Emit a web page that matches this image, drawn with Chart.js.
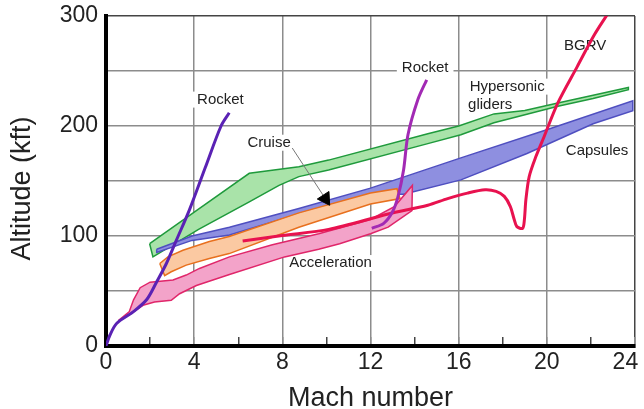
<!DOCTYPE html>
<html>
<head>
<meta charset="utf-8">
<title>Altitude vs Mach number</title>
<script src="https://cdn.jsdelivr.net/npm/chart.js@4.4.1/dist/chart.umd.min.js"></script>
<style>
    html, body { margin: 0; padding: 0; background: #fff; }
    #wrap { width: 644px; height: 409px; }
</style>
</head>
<body>
<div id="wrap"><canvas id="chart" width="644" height="409"></canvas></div>
<script>
// Axis ticks
const xTicks = [0, 4, 8, 12, 16, 20, 24];
const yTicks = [0, 100, 200, 300];

// Corridor outlines, [Mach, kft]; upper edge left->right, lower edge left->right
const glidersUpper = [[1.98, 93], [4.1, 123], [6.5, 157], [8.75, 163], [10.1, 169], [14.6, 193], [16.0, 200], [17.6, 211], [19.0, 214], [20.5, 221], [22.1, 228], [23.7, 235]];
const glidersLower = [[2.13, 81], [4.2, 106], [6.5, 131], [7.85, 146], [8.75, 154], [10.1, 160], [14.6, 184], [16.1, 192], [17.6, 203], [20.5, 218], [22.1, 225], [23.7, 233]];

const capsulesUpper = [[2.3, 88], [3.9, 100], [5.6, 108], [8.75, 125], [12.0, 143.5], [16.1, 171], [20.2, 198], [23.9, 223]];
const capsulesLower = [[2.3, 85], [3.9, 96], [5.6, 101], [8.75, 120], [12.0, 138], [13.5, 138], [16.1, 151], [19.1, 175], [22.1, 202], [23.9, 214]];

const cruiseUpper = [[2.44, 75], [2.81, 81], [3.49, 87], [4.69, 95], [5.59, 99.5], [8.75, 121], [12.0, 139], [13.2, 143]];
const cruiseLower = [[2.66, 64], [2.96, 67.5], [3.64, 73.5], [4.69, 79.5], [5.59, 84], [8.75, 108], [12.0, 129], [13.34, 134]];

const accelUpper = [[0.56, 23], [1.05, 31], [1.25, 42], [1.55, 53], [2.0, 58], [3.04, 60], [3.64, 64.5], [4.24, 70.5], [5.6, 81], [7.55, 92], [9.65, 102], [12.0, 115], [13.1, 127], [13.9, 146]];
const accelLower = [[0.56, 23], [1.1, 29], [1.68, 37], [2.2, 40], [2.96, 41.5], [3.34, 47.5], [4.1, 55], [5.6, 65], [8.1, 81], [9.65, 88], [10.6, 93], [12.0, 102], [12.8, 108], [13.88, 123]];

// Trajectories
const rocketA = [[0, 0], [0.18, 10], [0.48, 20.5], [1.23, 31], [1.84, 42], [2.29, 58], [2.74, 75], [3.19, 96], [3.79, 124], [4.5, 162], [5.22, 200], [5.59, 212]];
const rocketB = [[12.06, 107], [12.6, 111.5], [13.0, 122], [13.25, 136], [13.5, 160], [13.7, 192], [14.15, 224], [14.55, 242]];
const bgrv = [[6.2, 95.5], [8.0, 100.5], [10.1, 106], [12.8, 120], [14.6, 128], [15.5, 134], [16.4, 139], [17.2, 142], [17.7, 140.5], [18.07, 136], [18.34, 127], [18.52, 115], [18.64, 108.5], [18.9, 107], [18.98, 114.5], [19.05, 133], [19.2, 154], [19.5, 172], [19.88, 190.5], [20.5, 221], [21.38, 254], [22.13, 282], [22.73, 301]];
const cruiseArrow = [[8.45, 180], [9.95, 134]];

// Text labels
const labelTexts = ['Rocket', 'Rocket', 'Cruise', 'Hypersonic', 'gliders', 'Capsules', 'BGRV', 'Acceleration'];
const labelAt = [[5.19, 224], [14.48, 253], [7.4, 184.8], [18.2, 235.8], [17.43, 219.4], [22.28, 177.5], [21.74, 273.2], [10.19, 75.4]];

const FONT = '"Liberation Sans", Arial, Helvetica, sans-serif';

function toXY(list) {
    return list.map(([x, y]) => ({ x: x, y: y }));
}

// closed outline: upper edge, then lower edge back to start
function band(upper, lower) {
    const pts = upper.concat(lower.slice().reverse());
    pts.push(upper[0]);
    return toXY(pts);
}

function bandSet(label, upper, lower, fillColor, edgeColor, order) {
    return {
        label: label,
        data: band(upper, lower),
        showLine: true,
        fill: 'shape',
        backgroundColor: fillColor,
        borderColor: edgeColor,
        borderWidth: 1.5,
        pointRadius: 0,
        tension: 0,
        order: order
    };
}

function lineSet(label, list, color, order) {
    return {
        label: label,
        data: toXY(list),
        showLine: true,
        fill: false,
        borderColor: color,
        borderWidth: 3,
        pointRadius: 0,
        tension: 0.3,
        order: order
    };
}

// labels go under the curves, with a white box that hides the grid
const textLabels = {
    id: 'textLabels',
    beforeDatasetsDraw(chart) {
        const { ctx, scales: { x, y } } = chart;
        ctx.save();
        ctx.font = '15px ' + FONT;
        ctx.textAlign = 'center';
        ctx.textBaseline = 'middle';
        labelTexts.forEach((t, i) => {
            const px = x.getPixelForValue(labelAt[i][0]);
            const py = y.getPixelForValue(labelAt[i][1]);
            const w = ctx.measureText(t).width;
            ctx.fillStyle = '#fff';
            ctx.fillRect(px - w / 2 - 5, py - 8, w + 10, 16);
            ctx.fillStyle = '#222';
            ctx.fillText(t, px, py);
        });
        ctx.restore();
    }
};

const datasets = [
    bandSet('Hypersonic gliders', glidersUpper, glidersLower, '#a9e3a9', '#1f9a3c', 7),
    bandSet('Capsules', capsulesUpper, capsulesLower, '#8e8fe0', '#4f4fc0', 6),
    bandSet('Cruise', cruiseUpper, cruiseLower, '#fbc9a2', '#e8701e', 5),
    bandSet('Acceleration', accelUpper, accelLower, '#f3a3c9', '#e0266a', 4),
    lineSet('BGRV', bgrv, '#e8124f', 3),
    lineSet('Rocket', rocketA, '#5a22b4', 2),
    lineSet('Rocket', rocketB, '#a22ab4', 1),
    {
        label: 'arrow',
        data: toXY(cruiseArrow),
        showLine: true,
        fill: false,
        borderColor: '#777',
        borderWidth: 1,
        pointRadius: [0, 8],
        pointStyle: 'triangle',
        rotation: 147,
        pointBackgroundColor: '#000',
        pointBorderColor: '#000',
        tension: 0,
        order: 0
    }
];

new Chart(document.getElementById('chart').getContext('2d'), {
    type: 'scatter',
    data: { datasets: datasets },
    plugins: [textLabels],
    options: {
        responsive: false,
        animation: false,
        events: [],
        layout: { padding: { top: 16, right: 6, left: 0, bottom: 0 } },
        plugins: {
            legend: { display: false },
            tooltip: { enabled: false }
        },
        scales: {
            x: {
                type: 'linear',
                min: 0,
                max: 24,
                afterFit(scale) {
                    scale.height = 63;
                    scale.paddingLeft = 0;
                    scale.paddingRight = 0;
                },
                afterBuildTicks(scale) {
                    const t = [];
                    for (let v = 0; v <= 24; v += 2) t.push({ value: v });
                    scale.ticks = t;
                },
                ticks: {
                    autoSkip: false,
                    maxRotation: 0,
                    padding: 12,
                    color: '#222',
                    font: { size: 23, family: FONT },
                    callback: v => xTicks.includes(v) ? (v === 24 ? '24   ' : String(v)) : ''
                },
                grid: {
                    drawTicks: true,
                    tickLength: -9,
                    lineWidth: 1.5,
                    tickWidth: 1.5,
                    color: ctx => ctx.tick.value === 24 ? '#444' : (ctx.tick.value % 4 === 0 ? '#8c8c8c' : 'transparent'),
                    tickColor: ctx => ctx.tick.value % 4 === 0 ? '#8c8c8c' : '#444'
                },
                border: { display: true, color: '#000', width: 4 },
                title: {
                    display: true,
                    text: 'Mach number',
                    color: '#222',
                    font: { size: 27, family: FONT, lineHeight: 0.8 },
                    padding: { top: 0, bottom: 0 }
                }
            },
            y: {
                type: 'linear',
                min: 0,
                max: 300,
                afterFit(scale) {
                    scale.width = 106;
                    scale.paddingTop = 0;
                    scale.paddingBottom = 0;
                },
                ticks: {
                    stepSize: 50,
                    padding: 8,
                    color: '#222',
                    font: { size: 23, family: FONT },
                    callback: v => yTicks.includes(v) ? String(v) : ''
                },
                grid: {
                    drawTicks: false,
                    lineWidth: 1.5,
                    color: ctx => ctx.tick.value === 300 ? '#444' : '#8c8c8c'
                },
                border: { display: true, color: '#000', width: 4 },
                title: {
                    display: true,
                    text: 'Altitude (kft)  ',
                    color: '#222',
                    font: { size: 27, family: FONT },
                    padding: { top: 6, bottom: 0 }
                }
            }
        }
    }
});
</script>
</body>
</html>
